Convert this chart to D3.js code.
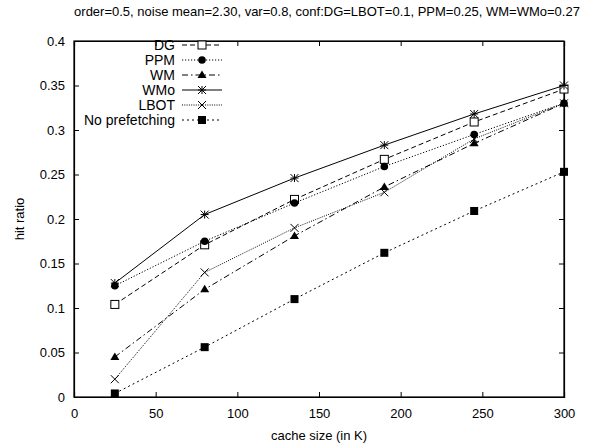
<!DOCTYPE html>
<html>
<head>
<meta charset="utf-8">
<script src="https://cdn.jsdelivr.net/npm/d3@7"></script>
<style>
  body { margin: 0; background: #fff; }
  text { font-family: "Liberation Sans", Arial, sans-serif; fill: #000; }
</style>
</head>
<body>
<div id="chart"></div>
<script>
// Chart size and plot margins
let width = 595,
    height = 444,
    margin = ({ top: 41, right: 31, bottom: 47, left: 74 });

// Data
const cacheSizes = [25, 80, 135, 190, 245, 300];
const seriesNames = ["DG", "PPM", "WM", "WMo", "LBOT", "No prefetching"];
const dgValues = [0.104, 0.171, 0.222, 0.267, 0.309, 0.346];
const ppmValues = [0.125, 0.175, 0.218, 0.259, 0.295, 0.330];
const wmValues = [0.045, 0.121, 0.181, 0.236, 0.285, 0.330];
const wmoValues = [0.128, 0.205, 0.246, 0.283, 0.318, 0.350];
const lbotValues = [0.020, 0.140, 0.190, 0.230, 0.290, 0.330];
const noPrefValues = [0.004, 0.056, 0.110, 0.162, 0.209, 0.253];
const xTicks = [0, 50, 100, 150, 200, 250, 300];
const yTicks = [0, 0.05, 0.1, 0.15, 0.2, 0.25, 0.3, 0.35, 0.4];

const titleText = "order=0.5, noise mean=2.30, var=0.8, conf:DG=LBOT=0.1, PPM=0.25, WM=WMo=0.27";

// line style and marker per series
const styles = {
  "DG": { dash: "5,3", marker: "openSquare" },
  "PPM": { dash: "1.2,1.8", marker: "circle" },
  "WM": { dash: "6,3,1.5,3", marker: "triangle" },
  "WMo": { dash: null, marker: "star" },
  "LBOT": { dash: "1,1.3", marker: "cross" },
  "No prefetching": { dash: "2,3", marker: "square" }
};

const series = [dgValues, ppmValues, wmValues, wmoValues, lbotValues, noPrefValues]
  .map((vals, i) => ({ name: seriesNames[i], values: vals.map((v, j) => ({ x: cacheSizes[j], y: v })) }));

const svg = d3.select("#chart")
  .append("svg")
  .attr("width", width)
  .attr("height", height);

let x = d3.scaleLinear()
  .domain([0, 300])
  .range([margin.left, width - margin.right]);

let y = d3.scaleLinear()
  .domain([0, 0.4])
  .range([height - margin.bottom, margin.top]);

// axes, ticks pointing inwards, mirrored on top/right
const tickLen = 5;
svg.append("g")
  .attr("transform", `translate(0,${height - margin.bottom})`)
  .call(d3.axisBottom(x).tickValues(xTicks).tickSize(-tickLen).tickPadding(12).tickFormat(d3.format("d")));
svg.append("g")
  .attr("transform", `translate(0,${margin.top})`)
  .call(d3.axisTop(x).tickValues(xTicks).tickSize(-tickLen).tickFormat(""));
svg.append("g")
  .attr("transform", `translate(${margin.left},0)`)
  .call(d3.axisLeft(y).tickValues(yTicks).tickSize(-tickLen).tickPadding(9).tickFormat(d => d === 0 ? "0" : String(+d.toFixed(2))));
svg.append("g")
  .attr("transform", `translate(${width - margin.right},0)`)
  .call(d3.axisRight(y).tickValues(yTicks).tickSize(-tickLen).tickFormat(""));

svg.selectAll(".domain").attr("stroke", "#000").attr("stroke-width", 1.2);
svg.selectAll(".tick line").attr("stroke", "#000");
svg.selectAll(".tick text").attr("font-size", 13).attr("font-family", "Liberation Sans, Arial, sans-serif");

// frame
svg.append("rect")
  .attr("x", margin.left)
  .attr("y", margin.top)
  .attr("width", width - margin.left - margin.right)
  .attr("height", height - margin.top - margin.bottom)
  .attr("fill", "none")
  .attr("stroke", "#000")
  .attr("stroke-width", 1.2);

// titles
svg.append("text")
  .attr("x", 327)
  .attr("y", 16)
  .attr("text-anchor", "middle")
  .attr("font-size", 13)
  .text(titleText);

svg.append("text")
  .attr("x", (margin.left + width - margin.right) / 2)
  .attr("y", 440)
  .attr("text-anchor", "middle")
  .attr("font-size", 13)
  .text("cache size (in K)");

svg.append("text")
  .attr("transform", `translate(24,${(margin.top + height - margin.bottom) / 2}) rotate(-90)`)
  .attr("text-anchor", "middle")
  .attr("font-size", 13)
  .text("hit ratio");

// marker drawing
function drawMarker(g, type, cx, cy) {
  const s = 4;
  if (type === "openSquare") {
    g.append("rect").attr("x", cx - s).attr("y", cy - s).attr("width", 2 * s).attr("height", 2 * s)
      .attr("fill", "#fff").attr("stroke", "#000").attr("stroke-width", 1);
  } else if (type === "square") {
    g.append("rect").attr("x", cx - s).attr("y", cy - s).attr("width", 2 * s).attr("height", 2 * s)
      .attr("fill", "#000");
  } else if (type === "circle") {
    g.append("circle").attr("cx", cx).attr("cy", cy).attr("r", 3.8).attr("fill", "#000");
  } else if (type === "triangle") {
    g.append("path").attr("d", `M${cx},${cy - 4.5}L${cx + 4.5},${cy + 3}L${cx - 4.5},${cy + 3}Z`).attr("fill", "#000");
  } else if (type === "cross") {
    g.append("path").attr("d", `M${cx - s},${cy - s}L${cx + s},${cy + s}M${cx - s},${cy + s}L${cx + s},${cy - s}`)
      .attr("stroke", "#000").attr("stroke-width", 1);
  } else if (type === "star") {
    g.append("path").attr("d", `M${cx - s},${cy - s}L${cx + s},${cy + s}M${cx - s},${cy + s}L${cx + s},${cy - s}M${cx - s},${cy}L${cx + s},${cy}M${cx},${cy - s}L${cx},${cy + s}`)
      .attr("stroke", "#000").attr("stroke-width", 1);
  }
}

const line = d3.line().x(d => x(d.x)).y(d => y(d.y));

// series lines and points
series.forEach(s => {
  const st = styles[s.name];
  const g = svg.append("g");
  g.append("path")
    .datum(s.values)
    .attr("fill", "none")
    .attr("stroke", "#000")
    .attr("stroke-width", 1)
    .attr("stroke-dasharray", st.dash)
    .attr("d", line);
  s.values.forEach(d => drawMarker(g, st.marker, x(d.x), y(d.y)));
});

// legend
const legend = svg.append("g");
seriesNames.forEach((name, i) => {
  const st = styles[name];
  const ly = 45 + i * 15;
  legend.append("text")
    .attr("x", 175)
    .attr("y", ly + 5)
    .attr("text-anchor", "end")
    .attr("font-size", 14)
    .text(name);
  legend.append("line")
    .attr("x1", 182).attr("x2", 222)
    .attr("y1", ly).attr("y2", ly)
    .attr("stroke", "#000")
    .attr("stroke-width", 1)
    .attr("stroke-dasharray", st.dash);
  drawMarker(legend, st.marker, 202, ly);
});
</script>
</body>
</html>
